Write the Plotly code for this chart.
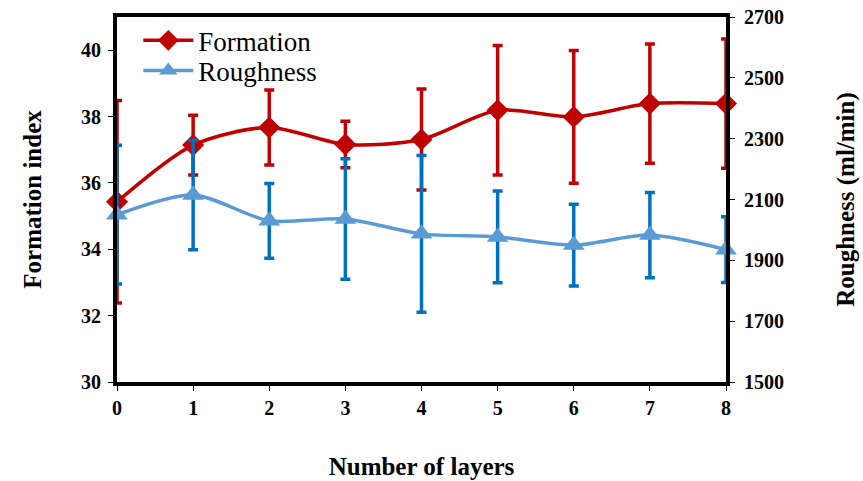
import plotly.graph_objects as go

layers = [0, 1, 2, 3, 4, 5, 6, 7, 8]
formation = [35.43, 37.14, 37.67, 37.16, 37.31, 38.19, 37.99, 38.39, 38.39]
formation_err = [3.05, 0.9, 1.13, 0.7, 1.52, 1.95, 2.0, 1.8, 1.95]
roughness = [2050, 2115, 2030, 2036, 1987, 1977, 1950, 1983, 1935]
roughness_err = [228, 180, 123, 198, 258, 151, 134, 140, 108]
left_ticks = [30, 32, 34, 36, 38, 40]
right_ticks = [1500, 1700, 1900, 2100, 2300, 2500, 2700]

serif = "Liberation Serif, Times New Roman, serif"
red = "#C00000"
blue_line = "#5B9BD5"
blue_err = "#0070C0"

fig = go.Figure()
fig.add_trace(go.Scatter(
    x=layers, y=formation, name="Formation", mode="lines+markers",
    line=dict(color=red, width=3.5, shape="spline", smoothing=0.8),
    marker=dict(symbol="diamond", size=17, color=red),
    error_y=dict(type="data", array=formation_err, visible=True,
                 color=red, thickness=3.5, width=5),
    cliponaxis=False, yaxis="y", legend="legend"))
fig.add_trace(go.Scatter(
    x=layers, y=roughness, name="Roughness", mode="lines+markers",
    line=dict(color=blue_line, width=3.5, shape="spline", smoothing=0.8),
    marker=dict(symbol="triangle-up", size=19, color=blue_line),
    error_y=dict(type="data", array=roughness_err, visible=True,
                 color=blue_err, thickness=3.5, width=5),
    cliponaxis=False, yaxis="y2", legend="legend2"))

tick_font = dict(family=serif, size=20, color="black", weight="bold")
title_font = dict(family=serif, size=25, color="black")
legend_font = dict(family=serif, size=27, color="black")

fig.update_layout(
    width=863, height=481,
    margin=dict(l=117, r=137, t=17, b=99, autoexpand=False),
    paper_bgcolor="white", plot_bgcolor="white",
    showlegend=True,
    legend=dict(x=0.035, y=0.935, xanchor="left", yanchor="middle",
                font=legend_font, bgcolor="rgba(0,0,0,0)", itemwidth=50),
    legend2=dict(x=0.035, y=0.852, xanchor="left", yanchor="middle",
                 font=legend_font, bgcolor="rgba(0,0,0,0)", itemwidth=50),
    xaxis=dict(range=[0, 8], tickvals=layers, ticks="outside", ticklen=5,
               tickwidth=1, tickcolor="black", showgrid=False, zeroline=False,
               showline=True, linewidth=4, linecolor="black", mirror=True,
               tickfont=tick_font, automargin=False,
               title=dict(text="<b>Number of layers</b>", standoff=40,
                          font=title_font)),
    yaxis=dict(range=[30, 41], tickvals=left_ticks, ticks="outside",
               ticklen=5, tickwidth=1, tickcolor="black", showgrid=False,
               zeroline=False, showline=True, linewidth=4, linecolor="black",
               mirror=True, tickfont=tick_font, ticklabelstandoff=3,
               automargin=False,
               title=dict(text="<b>Formation index</b>", standoff=33,
                          font=title_font)),
    yaxis2=dict(range=[1500, 2700], tickvals=right_ticks,
                overlaying="y", side="right", ticks="outside", ticklen=5,
                tickwidth=1, tickcolor="black", showgrid=False, zeroline=False,
                showline=True, linewidth=4, linecolor="black",
                tickfont=tick_font, ticklabelstandoff=5, automargin=False,
                title=dict(text="<b>Roughness (ml/min)</b>", standoff=54,
                           font=title_font)),
)

fig.write_html("out.html")
